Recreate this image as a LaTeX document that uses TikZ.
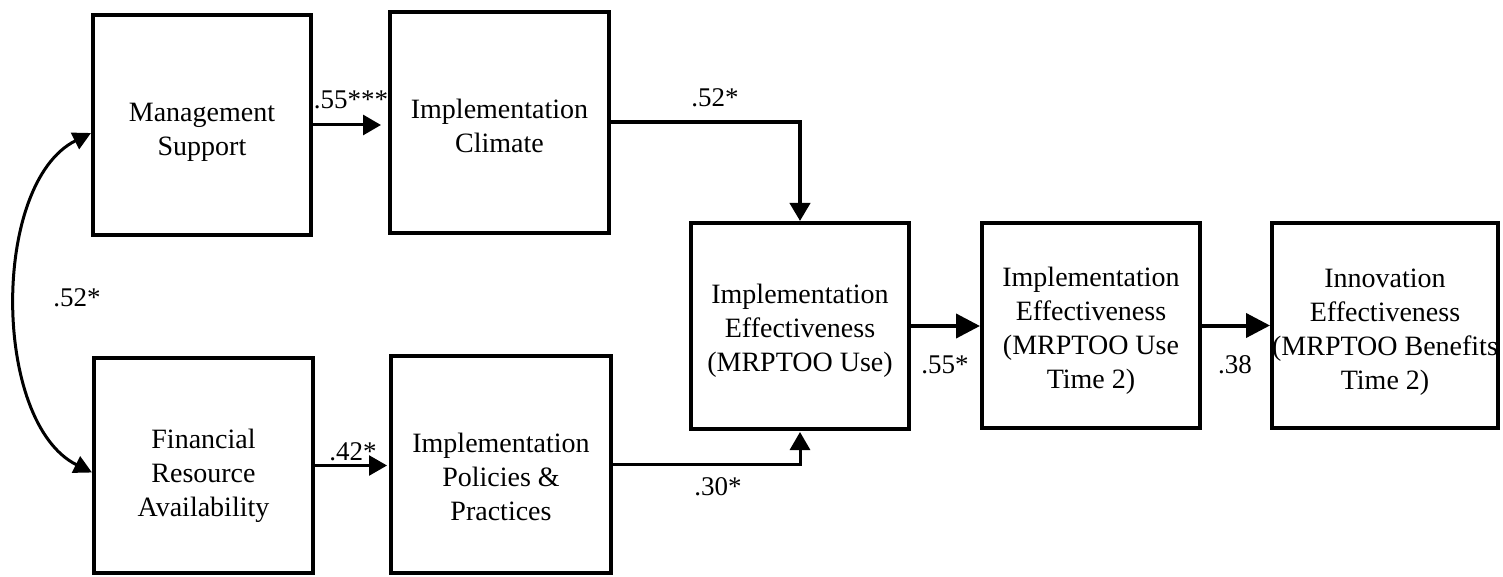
\documentclass[tikz,border=0pt]{standalone}
\usepackage{fontspec}
\setmainfont{Liberation Serif}
\usetikzlibrary{arrows.meta}
\begin{document}
\begin{tikzpicture}[x=1pt,y=-1pt,
  box/.style={draw, line width=4pt, inner sep=0pt},
  txt/.style={align=center, inner sep=0pt, font=\fontsize{28}{34}\selectfont},
  conn/.style={line width=3pt, -{Triangle[length=18pt,width=20pt]}},
  bigconn/.style={line width=4pt, -{Triangle[length=24pt,width=24pt]}},
  corr/.style={line width=3pt,
    {Triangle[length=18pt,width=18pt]}-{Triangle[length=18pt,width=18pt]}},
  coef/.style={font=\fontsize{27}{32}\selectfont, inner sep=0pt}]
\useasboundingbox (0,0) rectangle (1503,577);

% antecedents
\node[box, minimum width=218pt, minimum height=220pt] (ms) at (202,125) {};
\node[box, minimum width=219pt, minimum height=215pt] (fra) at (203.5,465.5) {};

% mediators
\node[box, minimum width=219pt, minimum height=221pt] (ic) at (499.5,122.5) {};
\node[box, minimum width=220pt, minimum height=217pt] (ipp) at (501,464.5) {};

% outcomes
\node[box, minimum width=218pt, minimum height=206pt] (ie) at (800,326) {};
\node[box, minimum width=218pt, minimum height=205pt] (t2) at (1091,325.5) {};
\node[box, minimum width=226pt, minimum height=205pt] (inn) at (1385,325.5) {};

% box texts
\node[txt] (ms-t) at ([yshift=-7.5pt]ms.center) {Management\\Support};
\node[txt] (fra-t) at ([yshift=-10pt]fra.center) {Financial\\Resource\\Availability};
\node[txt] (ic-t) at ([yshift=-3pt]ic.center) {Implementation\\Climate};
\node[txt] (ipp-t) at ([yshift=-12pt]ipp.center) {Implementation\\Policies \&\\Practices};
\node[txt] (ie-t) at ([yshift=-5pt]ie.center) {Implementation\\Effectiveness\\(MRPTOO Use)};
\node[txt] (t2-t) at ([yshift=-5.5pt]t2.center) {Implementation\\Effectiveness\\(MRPTOO Use\\Time 2)};
\node[txt] (inn-t) at ([yshift=-6.5pt]inn.center) {Innovation\\Effectiveness\\(MRPTOO Benefits\\Time 2)};

% paths
\draw[conn, shorten >=7pt] (ms.east) -- (ms.east -| ic.west);
\draw[conn, line width=2.5pt, shorten >=2pt] (fra.east) -- (fra.east -| ipp.west);
\draw[conn, line width=4pt] (ic.east) -| (ie.north);
\draw[conn, shorten >=1pt] (ipp.east) -| (ie.south);
\draw[bigconn] (ie.east) -- (ie.east -| t2.west);
\draw[bigconn] (t2.east) -- (t2.east -| inn.west);
\draw[corr] ([yshift=-8pt]ms.west) .. controls +(-100,50) and +(-100,-50) .. ([yshift=-7pt]fra.west);

% path coefficients
\node[coef] (c1) at (351,100) {.55***};
\node[coef] (c2) at (715,98) {.52*};
\node[coef] (c3) at (353,452) {.42*};
\node[coef] (c4) at (718,487) {.30*};
\node[coef] (c5) at (945,365) {.55*};
\node[coef] (c6) at (1235,365) {.38};
\node[coef] (c7) at (77,298) {.52*};
\end{tikzpicture}
\end{document}
